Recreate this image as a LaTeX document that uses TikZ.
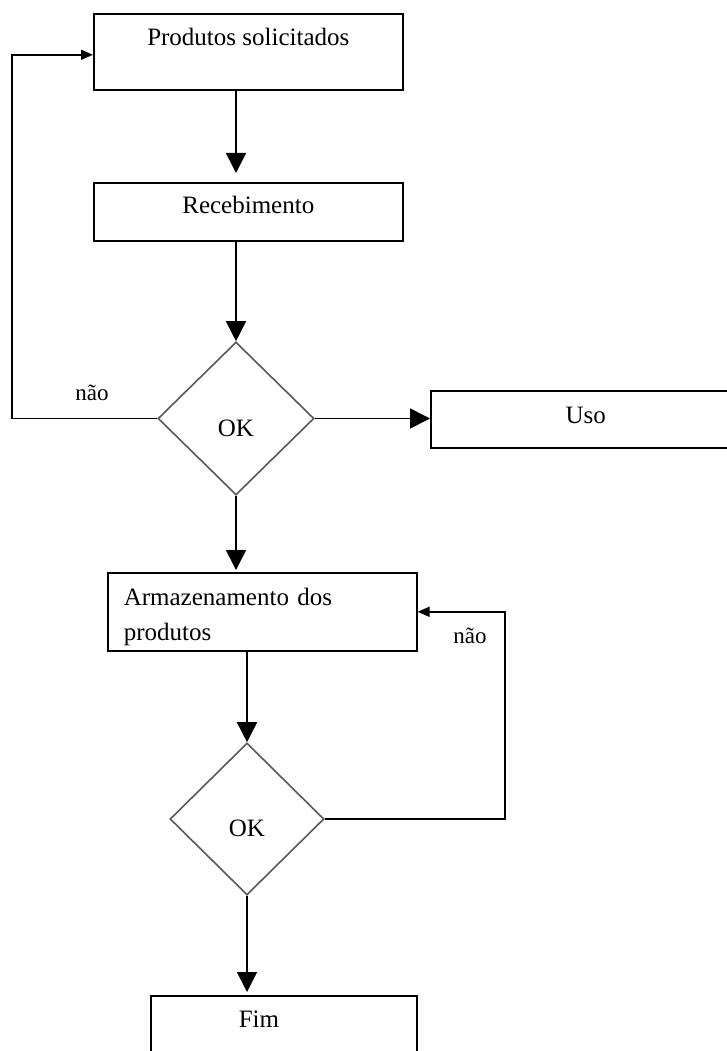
\documentclass[tikz,border=0pt]{standalone}
\usepackage{fontspec}
\setmainfont{Liberation Serif}
\usetikzlibrary{arrows.meta,shapes.geometric,calc}
\begin{document}
\begin{tikzpicture}[x=1pt,y=-1pt,
  box/.style={draw=black,line width=1.6pt,rectangle,inner ysep=0pt,minimum height=0pt,font=\fontsize{25}{35}\selectfont},
  dec/.style={draw=black!65,line width=1.6pt,diamond,inner sep=0pt,text height=35pt,text depth=0pt,font=\fontsize{25}{29}\selectfont},
  conn/.style={draw=black,line width=1.6pt},
  bigarr/.style={conn,-{Triangle[length=20pt,width=20pt]}},
  smallarr/.style={conn,-{Triangle[length=12pt,width=10pt]}},
  lab/.style={font=\fontsize{23}{27}\selectfont,anchor=base,inner sep=0pt}
]
\useasboundingbox (0,0) rectangle (727,1051);
\fill[white] (0,0) rectangle (727,1051);

\node[box,anchor=north west,minimum width=309pt,text height=32pt,text depth=44pt] (prod) at (93,13) {Produtos solicitados};
\node[box,anchor=north west,minimum width=309pt,text height=31pt,text depth=27pt] (rec) at (93,182) {Recebimento};
\node[dec,minimum width=156pt,minimum height=153pt] (d1) at (236,418.5) {OK};
\node[box,anchor=north west,minimum width=310pt,text height=33pt,text depth=24pt] (uso) at (430,390) {Uso};
\node[box,anchor=north west,minimum width=309pt,minimum height=78pt,align=left,text width=277pt,inner xsep=16pt] (arm) at (107,572) {\rule{0pt}{28pt}Armazenamento dos\\produtos};
\node[dec,minimum width=154pt,minimum height=152pt] (d2) at (247,819) {OK};
\node[box,anchor=north west,minimum width=266pt,text height=32pt,text depth=40pt,inner xsep=10pt] (fim) at (150,995) {\makebox[246pt][l]{\hspace*{78pt}Fim}};

\node[lab] (n1) at (92,400) {não};
\node[lab] (n2) at (470,643) {não};

\draw[bigarr,shorten >=9pt] (prod.south -| d1.north) -- (rec.north -| d1.north);
\draw[bigarr] (rec.south -| d1.north) -- (d1.north);
\draw[bigarr] (d1.east) -- (uso.west |- d1.east);
\draw[bigarr,shorten >=2pt] (d1.south) -- (d1.south |- arm.north);
\draw[bigarr] (arm.south -| d2.north) -- (d2.north);
\draw[bigarr,shorten >=3pt] (d2.south) -- (d2.south |- fim.north);
\coordinate (lA) at (12,418.5);
\draw[smallarr] (d1.west) -- (lA) |- ([yshift=-3pt]prod.west);
\coordinate (lB) at (505,819);
\draw[smallarr] (d2.east) -- (lB) |- (arm.east);
\end{tikzpicture}
\end{document}
